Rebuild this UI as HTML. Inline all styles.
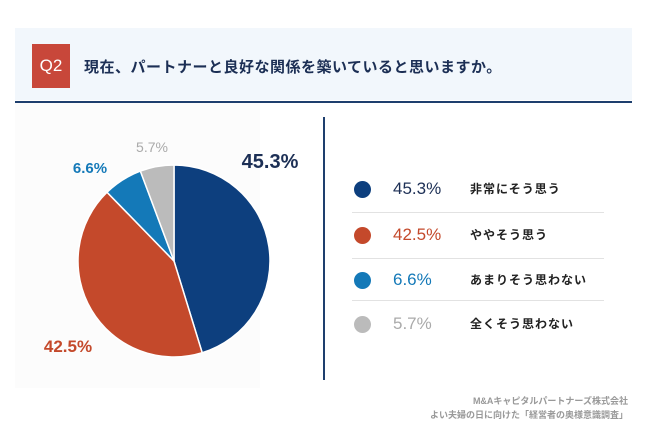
<!DOCTYPE html>
<html><head><meta charset="utf-8"><style>
body{margin:0;width:650px;height:434px;background:#fff;font-family:"Liberation Sans","Noto Sans CJK JP",sans-serif;position:relative;overflow:hidden}
.abs{position:absolute}
</style></head><body>
<div class="abs" style="left:15px;top:28px;width:617px;height:72px;background:#f2f7fc"></div>
<div class="abs" style="left:32px;top:44px;width:38px;height:44px;background:#c8473a;color:#fff;font-size:17px;line-height:44px;text-align:center">Q2</div>
<div class="abs" style="left:84px;top:56px;font-size:15px;color:#1c2f55;font-weight:bold;letter-spacing:0.5px">現在、パートナーと良好な関係を築いていると思いますか。</div>
<div class="abs" style="left:15px;top:101px;width:617px;height:2px;background:#1e3f6e"></div>
<div class="abs" style="left:15px;top:103px;width:245px;height:285px;background:#fcfcfc"></div>
<div class="abs" style="left:323px;top:117px;width:2px;height:263px;background:#1e3f6e"></div>
<svg class="abs" style="left:0;top:0" width="650" height="434" id="pie"></svg>
<div id="legend"></div>
<div class="abs" style="right:22px;top:394px;font-size:9px;color:#999;font-weight:bold">M&amp;Aキャピタルパートナーズ株式会社</div>
<div class="abs" style="right:22px;top:408px;font-size:9px;color:#999;font-weight:bold">よい夫婦の日に向けた「経営者の奥様意識調査」</div>
<script>
const categories=["非常にそう思う","ややそう思う","あまりそう思わない","全くそう思わない"];
const values=[45.3,42.5,6.6,5.7];
const colors=["#0d3f7e","#c4492b","#1479b8","#bbbbbb"];
const labelColors=["#1c2f55","#c4492b","#1479b8","#aaaaaa"];
const ns="http://www.w3.org/2000/svg";
const svg=document.getElementById('pie');
const cx=174,cy=261,r=96;
const total=values.reduce((a,b)=>a+b,0);
let a0=0;
const labelPos=[[270,168,20],[68,352,17],[90,173,15],[152,152,14]];
values.forEach((v,i)=>{
  const a1=a0+v/total*2*Math.PI;
  const x0=cx+r*Math.sin(a0),y0=cy-r*Math.cos(a0),x1=cx+r*Math.sin(a1),y1=cy-r*Math.cos(a1);
  const p=document.createElementNS(ns,'path');
  p.setAttribute('d',`M${cx},${cy}L${x0},${y0}A${r},${r} 0 ${a1-a0>Math.PI?1:0} 1 ${x1},${y1}Z`);
  p.setAttribute('fill',colors[i]);p.setAttribute('stroke','#fff');p.setAttribute('stroke-width','1.5');
  
  
  svg.appendChild(p);
  const t=document.createElementNS(ns,'text');
  t.setAttribute('x',labelPos[i][0]);t.setAttribute('y',labelPos[i][1]);
  t.setAttribute('text-anchor','middle');t.setAttribute('font-size',labelPos[i][2]);
  t.setAttribute('font-weight',i<3?'bold':'normal');t.setAttribute('fill',labelColors[i]);
  t.setAttribute('font-family','Liberation Sans, sans-serif');
  t.textContent=v.toFixed(1)+'%';
  
  
  svg.appendChild(t);
  a0=a1;
});
const lg=document.getElementById('legend');
const rowsY=[189,235,280,324];
categories.forEach((c,i)=>{
  const y=rowsY[i];
  const d=document.createElement('div');d.className='abs';
  d.style.cssText=`left:354px;top:${y-8.5}px;width:17px;height:17px;border-radius:50%;background:${colors[i]}`;
  
  
  lg.appendChild(d);
  const p=document.createElement('div');p.className='abs';
  p.style.cssText=`left:393px;top:${y-10}px;font-size:17px;color:${labelColors[i]}`;
  p.textContent=values[i].toFixed(1)+'%';
  
  
  lg.appendChild(p);
  const l=document.createElement('div');l.className='abs';
  l.style.cssText=`left:470px;top:${y-9}px;font-size:12px;font-weight:bold;color:#222;letter-spacing:1px`;
  l.textContent=c;
  
  
  lg.appendChild(l);
  if(i<3){const s=document.createElement('div');s.className='abs';
  s.style.cssText=`left:352px;top:${[212,258,300][i]}px;width:252px;height:1px;background:#e2e2e2`;
  
  
  lg.appendChild(s);}
});
</script>
</body></html>
